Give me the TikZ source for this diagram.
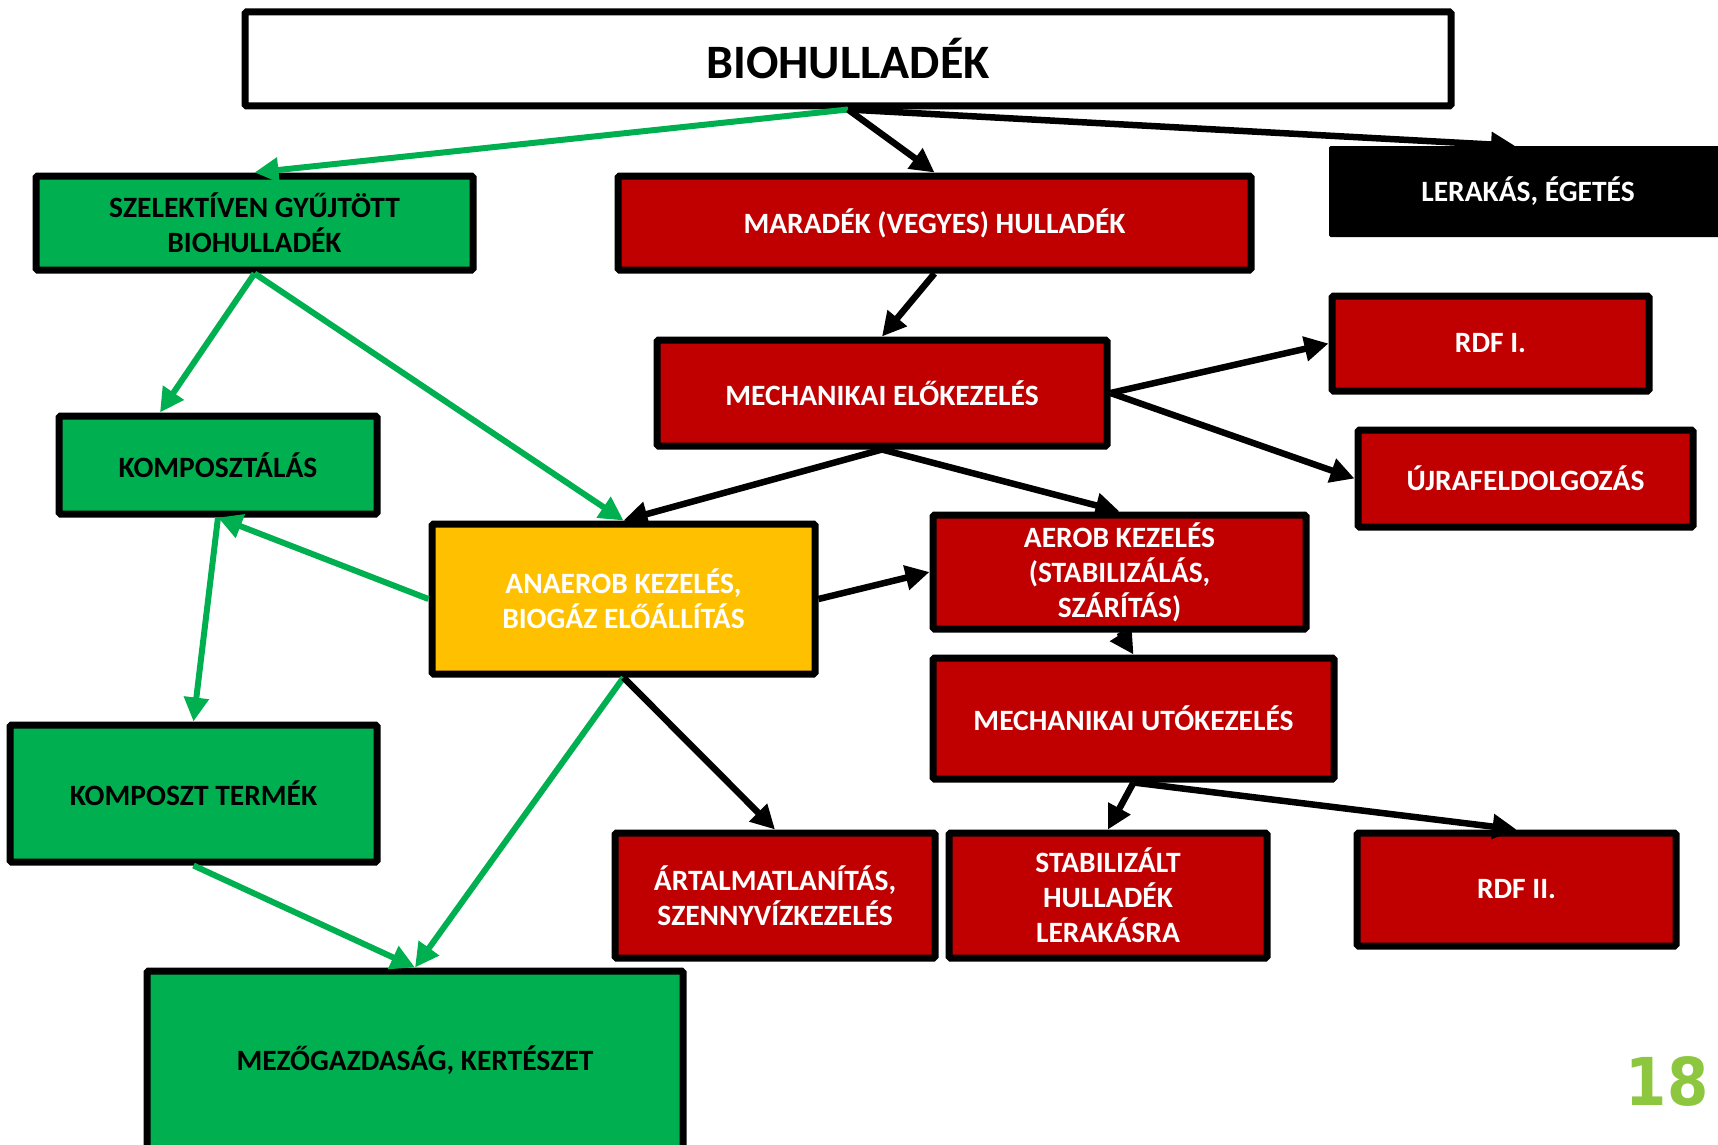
\documentclass[tikz,border=0pt]{standalone}
\usepackage{fontspec}
\setmainfont{Carlito}
\newfontfamily\pgfont{DejaVu Sans Condensed}
\usetikzlibrary{arrows.meta}
\definecolor{bxgreen}{HTML}{00B050}
\definecolor{bxred}{HTML}{C00000}
\definecolor{bxyellow}{HTML}{FFC000}
\definecolor{pgnum}{HTML}{8DC63F}
\begin{document}
\begin{tikzpicture}[x=1pt,y=-1pt,
 box/.style={draw=black,line width=7pt,rectangle,inner sep=0pt,align=center,rounded corners=1.5pt,font=\fontsize{29.5}{35}\selectfont\bfseries},
 gbox/.style={box,fill=bxgreen,text=black},
 rbox/.style={box,fill=bxred,text=white},
 ybox/.style={box,fill=bxyellow,text=white},
 garrow/.style={draw=bxgreen,line width=6pt,-{Triangle[length=24pt,width=24pt]}},
 barrow/.style={draw=black,line width=6.5pt,-{Triangle[length=24pt,width=24pt]}},
]
\useasboundingbox (0,0) rectangle (1718,1145);
\clip (0,0) rectangle (1718,1145);

\node[box,fill=white,text=black,minimum width=1206pt,minimum height=94pt,font=\fontsize{48}{56}\selectfont\bfseries] (title) at (848,59) {BIOHULLADÉK};
\node[gbox,minimum width=437pt,minimum height=94pt] (szel) at (254.5,223) {SZELEKTÍVEN GYŰJTÖTT\\BIOHULLADÉK};
\node[rbox,minimum width=633pt,minimum height=94pt] (maradek) at (934.5,223) {MARADÉK (VEGYES) HULLADÉK};
\node[draw=none,fill=black,text=white,inner sep=0pt,rounded corners=1.5pt,minimum width=398pt,minimum height=91pt,font=\fontsize{29.5}{35}\selectfont\bfseries] (lerakas) at (1528,191.5) {LERAKÁS, ÉGETÉS};
\node[rbox,minimum width=317pt,minimum height=95pt] (rdf1) at (1490.5,343.5) {RDF I.};
\node[rbox,minimum width=450pt,minimum height=106pt] (mechelo) at (882,393) {MECHANIKAI ELŐKEZELÉS};
\node[rbox,minimum width=335pt,minimum height=97pt] (ujra) at (1525.5,478.5) {ÚJRAFELDOLGOZÁS};
\node[gbox,minimum width=318pt,minimum height=98pt] (kompt) at (218,465) {KOMPOSZTÁLÁS};
\node[ybox,minimum width=383pt,minimum height=150pt] (anaerob) at (623.5,599) {ANAEROB KEZELÉS,\\BIOGÁZ ELŐÁLLÍTÁS};
\node[rbox,minimum width=373pt,minimum height=114pt] (aerob) at (1119.5,572) {AEROB KEZELÉS\\(STABILIZÁLÁS,\\SZÁRÍTÁS)};
\node[rbox,minimum width=401pt,minimum height=121pt] (mechuto) at (1133.5,718.5) {MECHANIKAI UTÓKEZELÉS};
\node[gbox,minimum width=367pt,minimum height=137pt] (termek) at (193.5,793.5) {KOMPOSZT TERMÉK};
\node[rbox,minimum width=320pt,minimum height=125pt] (artalm) at (775,895.5) {ÁRTALMATLANÍTÁS,\\SZENNYVÍZKEZELÉS};
\node[rbox,minimum width=318pt,minimum height=125pt] (stab) at (1108,895.5) {STABILIZÁLT\\HULLADÉK\\LERAKÁSRA};
\node[rbox,minimum width=319pt,minimum height=113pt] (rdf2) at (1516.5,889.5) {RDF II.};
\node[gbox,minimum width=536pt,minimum height=179pt] (mezo) at (415,1060.5) {MEZŐGAZDASÁG, KERTÉSZET};
\node[inner sep=0pt,text=pgnum,font=\pgfont\bfseries\fontsize{66}{66}\selectfont] (pg) at (1667,1081) {18};

\draw[garrow] (title.south) -- (szel.north);
\draw[barrow] (title.south) -- (maradek.north);
\draw[barrow] (title.south) -- ([xshift=-13pt]lerakas.north);
\draw[garrow] (szel.south) -- ([xshift=-58pt]kompt.north);
\draw[garrow] (szel.south) -- (anaerob.north);
\draw[barrow] (maradek.south) -- (mechelo.north);
\draw[barrow] (mechelo.south) -- (anaerob.north);
\draw[barrow] (mechelo.south) -- (aerob.north);
\draw[barrow] (mechelo.east) -- (rdf1.west);
\draw[barrow] (mechelo.east) -- (ujra.west);
\draw[barrow] (anaerob.east) -- (aerob.west);
\draw[garrow] (anaerob.west) -- (kompt.south);
\draw[garrow] (kompt.south) -- (termek.north);
\draw[garrow] (termek.south) -- (mezo.north);
\draw[garrow] (anaerob.south) -- (mezo.north);
\draw[barrow] (anaerob.south) -- (artalm.north);
\draw[barrow] (aerob.south) -- (mechuto.north);
\draw[barrow] (mechuto.south) -- (stab.north);
\draw[barrow] (mechuto.south) -- (rdf2.north);
\end{tikzpicture}
\end{document}
